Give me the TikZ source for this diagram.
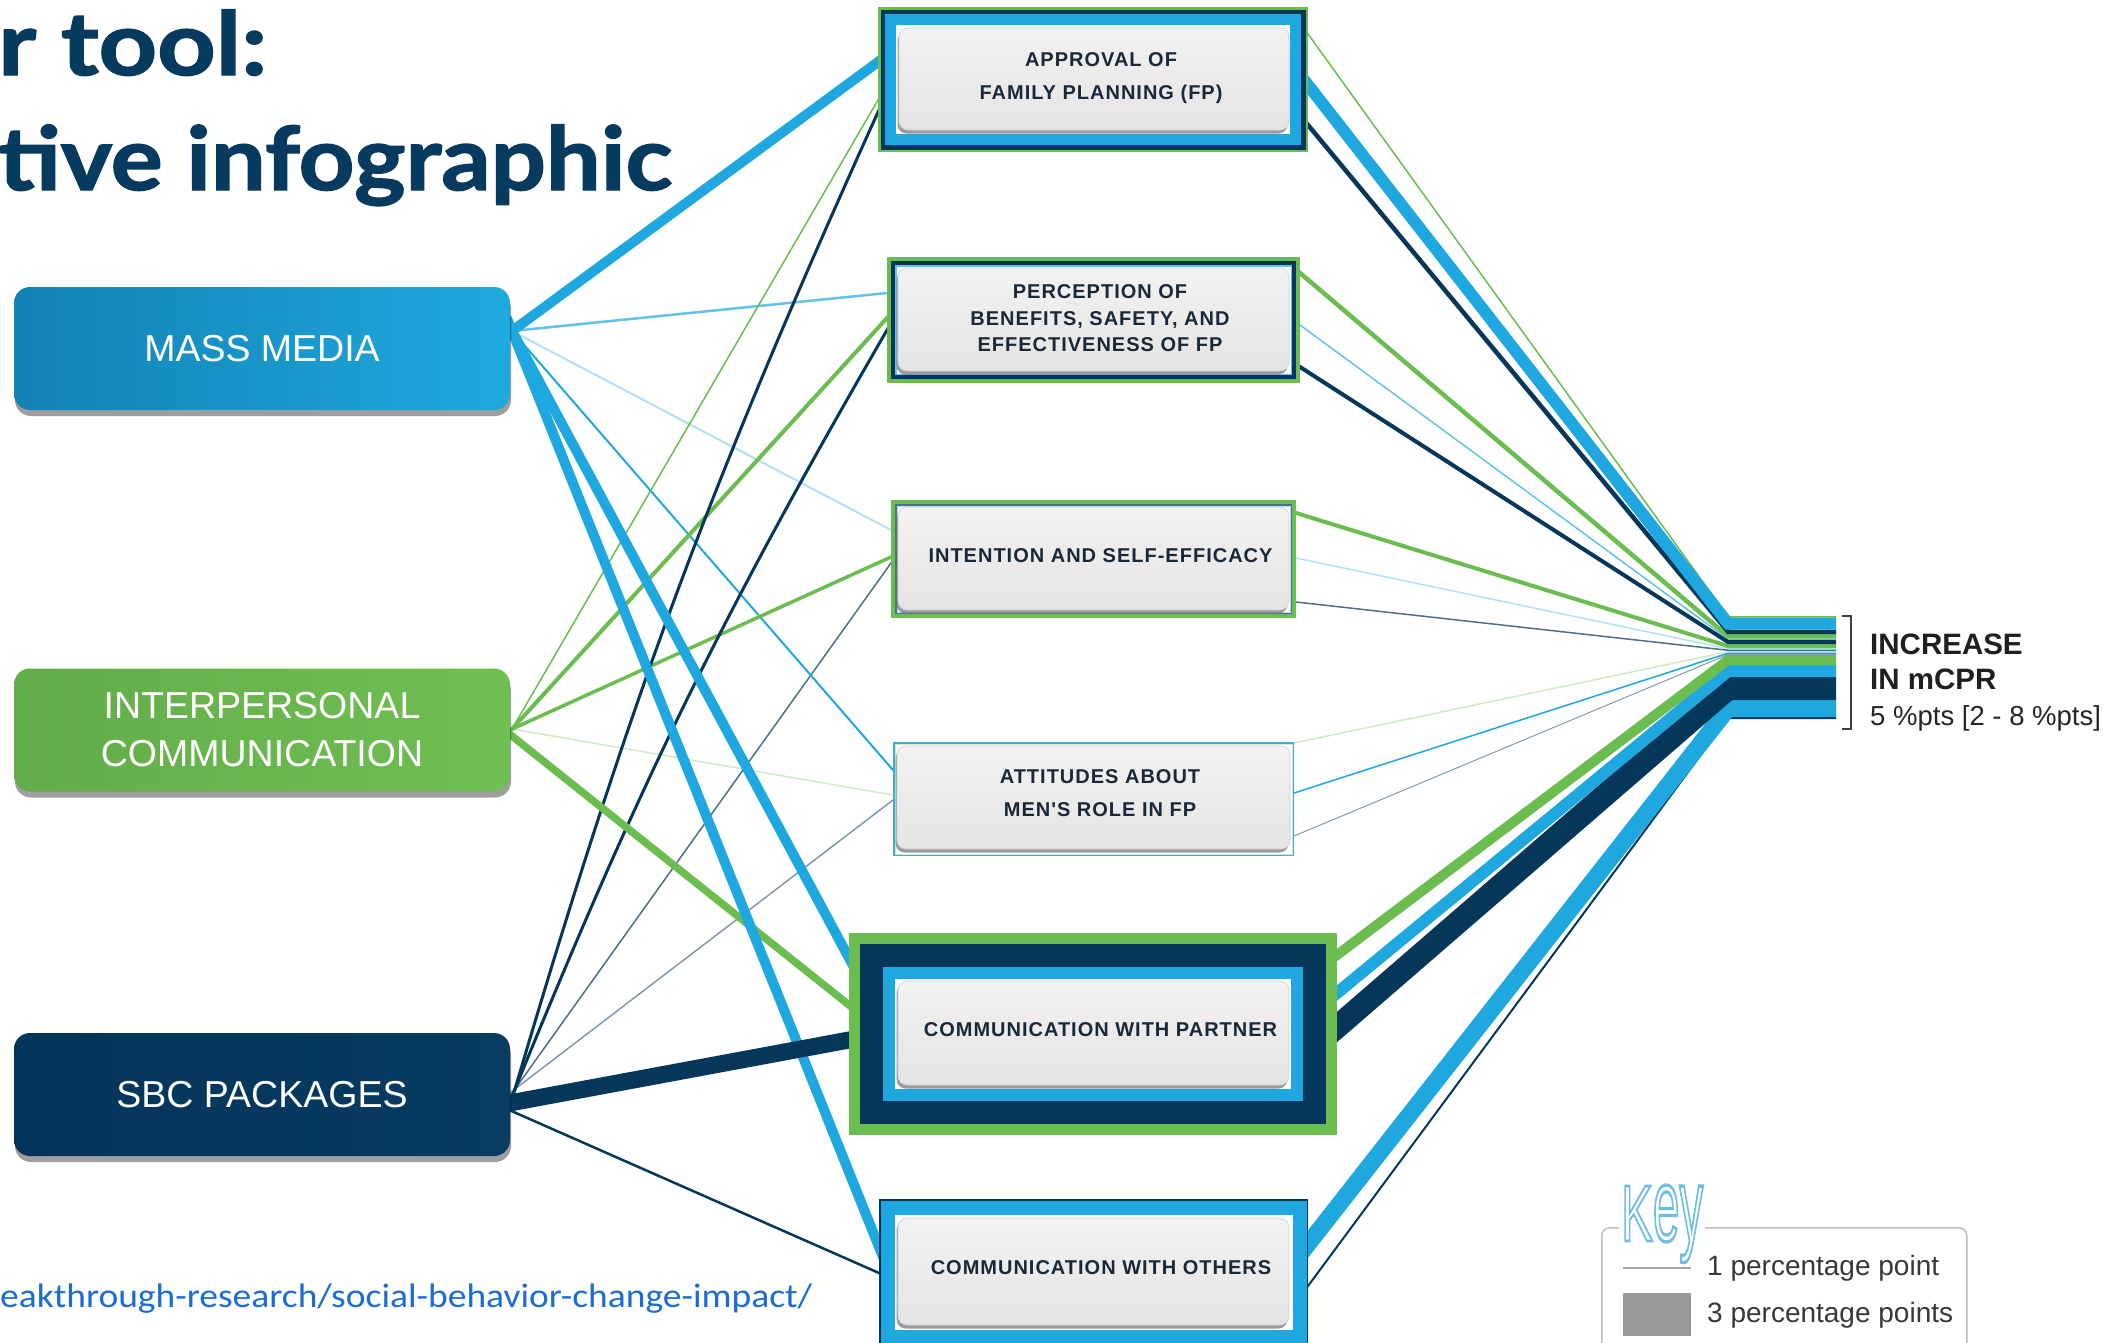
\documentclass[tikz,border=0pt]{standalone}
\usepackage{fontspec}
\setmainfont{Liberation Sans}
\newfontfamily\titlefont{Lato}[BoldFeatures={FakeBold=1.6}]
\newfontfamily\cardfont{Liberation Sans}[LetterSpace=5]
\newfontfamily\linkfont{Carlito}
\usetikzlibrary{shadows}
\definecolor{cBlue}{HTML}{1EA8DF}
\definecolor{cGreen}{HTML}{6CBD4F}
\definecolor{cNavy}{HTML}{05375A}
\definecolor{cTitle}{HTML}{063A5E}
\definecolor{cLtBlue}{HTML}{62C2EA}
\definecolor{cPaleBlue}{HTML}{B3E0F4}
\definecolor{cSlate}{HTML}{4F6E8A}
\definecolor{cSlateB}{HTML}{8298AE}
\definecolor{cPaleGreen}{HTML}{D3EAC7}
\definecolor{cText}{HTML}{1B2838}
\definecolor{cLink}{HTML}{1C6CD6}
\definecolor{cKey}{HTML}{6FBDE6}
\definecolor{cKeyEdge}{HTML}{BDBDBD}
\definecolor{cCardTop}{HTML}{F2F2F2}
\definecolor{cCardBot}{HTML}{E4E4E4}
\definecolor{cCardEdge}{HTML}{D0D0D0}
\definecolor{cMMl}{HTML}{1382B4}
\definecolor{cMMr}{HTML}{1FA9DF}
\definecolor{cIPl}{HTML}{63AC4A}
\definecolor{cIPr}{HTML}{70BF52}
\definecolor{cSBl}{HTML}{04345A}
\definecolor{cSBr}{HTML}{083C60}
\definecolor{cAttEdge}{HTML}{3AAEDF}
\tikzset{
  lconn/.style={line cap=butt, shorten <=-14pt, shorten >=-14pt},
  rconn/.style={line cap=butt, line join=miter, shorten <=-14pt},
  srcbox/.style={rounded corners=16pt, minimum width=496pt, minimum height=123pt,
    inner sep=0pt, text=white, align=center,
    font=\fontsize{37.5}{48}\selectfont,
    drop shadow={shadow xshift=1pt, shadow yshift=-6pt, opacity=0.38, fill=black}},
  card/.style={rounded corners=9pt, inner sep=0pt, top color=cCardTop, bottom color=cCardBot,
    draw=cCardEdge, line width=0.6pt,
    drop shadow={shadow xshift=-1.5pt, shadow yshift=-3.5pt, fill=black!55, opacity=0.7}},
  cardtext/.style={inner sep=0pt, align=center, text=cText,
    font=\cardfont\bfseries\fontsize{20}{33}\selectfont},
  legtext/.style={anchor=west, inner sep=0pt, text=black!78, font=\fontsize{28}{28}\selectfont},
}
\begin{document}
\begin{tikzpicture}[x=1pt,y=-1pt]
\useasboundingbox (0,0) rectangle (2116,1342);
\clip (0,0) rectangle (2116,1342);
\fill[white] (0,0) rectangle (2116,1342);

% ---------- title ----------
\node[anchor=base west, inner sep=0pt, text=cTitle, font=\titlefont\bfseries\fontsize{88}{88}\selectfont]
  (title1) at (-2,75) {\resizebox{269pt}{\height}{r tool:}};
\node[anchor=base west, inner sep=0pt, text=cTitle, font=\titlefont\bfseries\fontsize{88}{88}\selectfont]
  (title2) at (-2,190) {\resizebox{674pt}{\height}{tive infographic}};

% ---------- anchor coordinates ----------
\coordinate (mmA) at (512,331);
\coordinate (ipcA) at (512,729);
\coordinate (ipcB) at (512,736);
\coordinate (sbcA) at (515,1089);
\coordinate (sbcB) at (515,1102);
\coordinate (sbcC) at (516,1113);

\coordinate (appL1) at (878,62);  \coordinate (appL2) at (878,100); \coordinate (appL3) at (878,112);
\coordinate (perL1) at (887,293); \coordinate (perL2) at (887,318); \coordinate (perL3) at (887,330);
\coordinate (intL1) at (891,530); \coordinate (intL2) at (891,557); \coordinate (intL3) at (891,563);
\coordinate (attL1) at (893,770); \coordinate (attL2) at (893,795); \coordinate (attL3) at (893,800);
\coordinate (parL1) at (849,958); \coordinate (parL2) at (849,1005); \coordinate (parL3) at (849,1040);
\coordinate (othL1) at (879,1247); \coordinate (othL3) at (879,1273);

\coordinate (appR1) at (1308,34);  \coordinate (appR2) at (1308,85);  \coordinate (appR3) at (1308,125);
\coordinate (perR1) at (1300,273); \coordinate (perR2) at (1300,325); \coordinate (perR3) at (1300,367);
\coordinate (intR1) at (1296,513); \coordinate (intR2) at (1296,558); \coordinate (intR3) at (1296,602);
\coordinate (attR1) at (1294,743); \coordinate (attR2) at (1294,793); \coordinate (attR3) at (1294,836);
\coordinate (parR1) at (1337,955); \coordinate (parR2) at (1337,993); \coordinate (parR3) at (1337,1027);
\coordinate (othR1) at (1308,1244); \coordinate (othR3) at (1308,1286);

\foreach \n/\yy in {1/616.75, 2/623.5, 3/631.75, 4/636.25, 5/639.25, 6/642, 7/646, 8/648.75,
   9/650.25, 10/651.75, 11/653.25, 12/654.5, 13/660, 14/671, 15/688.5, 16/708.5, 17/718}
  {\coordinate (s\n) at (1728,\yy); \coordinate (o\n) at (1836,\yy);}

% ---------- left connectors ----------
\draw[lconn, cPaleGreen, line width=1.5pt] (ipcA) -- (attL2);
\draw[lconn, cPaleBlue, line width=2pt] (mmA) -- (intL1);
\draw[lconn, cSlateB, line width=1.5pt] (sbcA) -- (attL3);
\draw[lconn, cSlate, line width=1.5pt] (sbcA) -- (intL3);
\draw[lconn, cLtBlue, line width=2.5pt] (mmA) -- (perL1);
\draw[lconn, cBlue, line width=2pt] (mmA) -- (attL1);
\draw[lconn, cGreen, line width=1.5pt] (ipcA) -- (appL2);
\draw[lconn, cGreen, line width=4pt] (ipcA) -- (perL2);
\draw[lconn, cGreen, line width=3.5pt] (ipcA) -- (intL2);
\draw[lconn, cNavy, line width=3pt] (sbcA) to[bend left=4] (appL3);
\draw[lconn, cNavy, line width=3pt] (sbcA) to[bend left=4] (perL3);
\draw[lconn, cNavy, line width=2.5pt] (sbcC) -- (othL3);
\draw[lconn, cGreen, line width=7.5pt] (ipcB) -- (parL2);
\draw[lconn, cBlue, line width=10pt] (mmA) -- (appL1);
\draw[lconn, cBlue, line width=10pt] (mmA) -- (parL1);
\draw[lconn, cBlue, line width=10pt] (mmA) -- (othL1);
\draw[lconn, cNavy, line width=17pt] (sbcB) -- (parL3);

% ---------- right connectors ----------
\draw[rconn, cPaleGreen, line width=1.5pt] (attR1) -- (s10) -- (o10);
\draw[rconn, cSlateB, line width=1pt] (attR3) -- (s12) -- (o12);
\draw[rconn, cBlue, line width=1.5pt] (attR2) -- (s11) -- (o11);
\draw[rconn, cPaleBlue, line width=1.5pt] (intR2) -- (s8) -- (o8);
\draw[rconn, cSlate, line width=1.5pt] (intR3) -- (s9) -- (o9);
\draw[rconn, cGreen, line width=4pt] (intR1) -- (s7) -- (o7);
\draw[rconn, cLtBlue, line width=1.5pt] (perR2) -- (s5) -- (o5);
\draw[rconn, cNavy, line width=4pt] (perR3) -- (s6) -- (o6);
\draw[rconn, cGreen, line width=4.5pt] (perR1) -- (s4) -- (o4);
\draw[rconn, cGreen, line width=1.5pt] (appR1) -- (s1) -- (o1);
\draw[rconn, cNavy, line width=4.5pt] (appR3) -- (s3) -- (o3);
\draw[rconn, cBlue, line width=12pt] (appR2) -- (s2) -- (o2);
\draw[rconn, cNavy, line width=2pt] (othR3) -- (s17) -- (o17);
\draw[rconn, cBlue, line width=17pt] (othR1) -- (s16) -- (o16);
\draw[rconn, cNavy, line width=23pt] (parR3) -- (s15) -- (o15);
\draw[rconn, cBlue, line width=12pt] (parR2) -- (s14) -- (o14);
\draw[rconn, cGreen, line width=10pt] (parR1) -- (s13) -- (o13);

% bracket
\coordinate (br1) at (1842,616); \coordinate (br2) at (1851,616);
\coordinate (br3) at (1851,729); \coordinate (br4) at (1842,729);
\draw[black!75, line width=1.6pt] (br1) -- (br2) -- (br3) -- (br4);

% ---------- left boxes ----------
\node[srcbox, left color=cMMl, right color=cMMr] (mm) at (262,348.5) {MASS MEDIA};
\node[srcbox, left color=cIPl, right color=cIPr] (ipc) at (262,730) {INTERPERSONAL\\COMMUNICATION};
\node[srcbox, left color=cSBl, right color=cSBr] (sbc) at (262,1094.5) {SBC PACKAGES};

% ---------- middle boxes ----------
% approval
\fill[cGreen] (878,7) rectangle (1308,152);
\fill[cNavy] (880.5,9.5) rectangle (1305.5,149.5);
\fill[cBlue] (885,14) rectangle (1301,145);
\fill[white] (896,25) rectangle (1290,134);
\node[card, minimum width=390pt, minimum height=102pt] (app) at (1094,79) {};
\node[cardtext] (appT) at (1101,78.5) {APPROVAL OF\\FAMILY PLANNING (FP)};
% perception
\fill[cGreen] (887,257) rectangle (1300,383);
\fill[cNavy] (891,261) rectangle (1296,379);
\fill[cLtBlue] (895,265) rectangle (1292,375);
\fill[white] (896.5,266.5) rectangle (1290.5,373.5);
\node[card, minimum width=391pt, minimum height=103pt] (per) at (1093.5,319.5) {};
\node[cardtext, font=\cardfont\bfseries\fontsize{20}{26.5}\selectfont] (perT) at (1100,318.5)
  {PERCEPTION OF\\BENEFITS, SAFETY, AND\\EFFECTIVENESS OF FP};
% intention
\fill[cGreen] (891,500) rectangle (1296,618);
\fill[cSlate] (895,504) rectangle (1292,614);
\fill[cPaleBlue] (896.5,505.5) rectangle (1290.5,612.5);
\fill[white] (897.5,506.5) rectangle (1289.5,611.5);
\node[card, minimum width=391pt, minimum height=103pt] (int) at (1093.5,558.5) {};
\node[cardtext] (intT) at (1100.5,556) {INTENTION AND SELF-EFFICACY};
% attitudes
\fill[cAttEdge] (893,742) rectangle (1294,856);
\fill[cPaleGreen] (894.5,743.5) rectangle (1292.5,854.5);
\fill[white] (895.5,744.5) rectangle (1291.5,853.5);
\node[card, minimum width=393pt, minimum height=103pt] (att) at (1093.5,797.5) {};
\node[cardtext] (attT) at (1100,793.5) {ATTITUDES ABOUT\\MEN'S ROLE IN FP};
% partner
\fill[cGreen] (849,933) rectangle (1337,1135);
\fill[cNavy] (860,944) rectangle (1326,1124);
\fill[cBlue] (883,967) rectangle (1303,1101);
\fill[white] (895,979) rectangle (1291,1089);
\node[card, minimum width=391pt, minimum height=104pt] (par) at (1093.5,1033) {};
\node[cardtext] (parT) at (1100.5,1030) {COMMUNICATION WITH PARTNER};
% others
\fill[cNavy] (879,1199) rectangle (1308,1345);
\fill[cBlue] (880.5,1200.5) rectangle (1306.5,1343.5);
\fill[white] (894.5,1214.5) rectangle (1292.5,1329.5);
\node[card, minimum width=391pt, minimum height=107pt] (oth) at (1093.5,1271.5) {};
\node[cardtext] (othT) at (1101,1268) {COMMUNICATION WITH OTHERS};

% ---------- outcome text ----------
\node[anchor=base west, inner sep=0pt, text=black!88, font=\bfseries\fontsize{29.5}{34}\selectfont]
  (inc1) at (1870,654) {INCREASE};
\node[anchor=base west, inner sep=0pt, text=black!88, font=\bfseries\fontsize{29.5}{34}\selectfont]
  (inc2) at (1870,689) {IN mCPR};
\node[anchor=base west, inner sep=0pt, text=black!85, font=\fontsize{27.5}{30}\selectfont]
  (inc3) at (1870,725) {5 \%pts [2 - 8 \%pts]};

% ---------- footer link ----------
\node[anchor=base west, inner sep=0pt, text=cLink, font=\linkfont\fontsize{34}{34}\selectfont]
  (link) at (0,1307) {\resizebox{812pt}{\height}{eakthrough-research/social-behavior-change-impact/}};

% ---------- key ----------
\node[draw=cKeyEdge, line width=1.5pt, rounded corners=8pt, minimum width=365pt, minimum height=140pt,
  anchor=north west, inner sep=0pt] (keybox) at (1601,1227) {};
\coordinate (k1a) at (1623,1268); \coordinate (k1b) at (1691,1268);
\draw[black!35, line width=2pt] (k1a) -- (k1b);
\node[anchor=north west, inner sep=0pt, fill=black!40, minimum width=68pt, minimum height=43pt]
  (k3sq) at (1623,1293) {};
\node[legtext] (k1t) at (1707,1268) {1 percentage point};
\node[legtext] (k3t) at (1707,1315) {3 percentage points};
\node[anchor=base west, inner sep=2pt, fill=white, text=cKey, font=\fontsize{80}{80}\selectfont]
  (keyT) at (1619,1241) {\special{pdf:literal direct 1 Tr 2.6 w}\resizebox{82pt}{\height}{K\scalebox{1}[1.3]{ey}}\special{pdf:literal direct 0 Tr}};
\end{tikzpicture}
\end{document}
